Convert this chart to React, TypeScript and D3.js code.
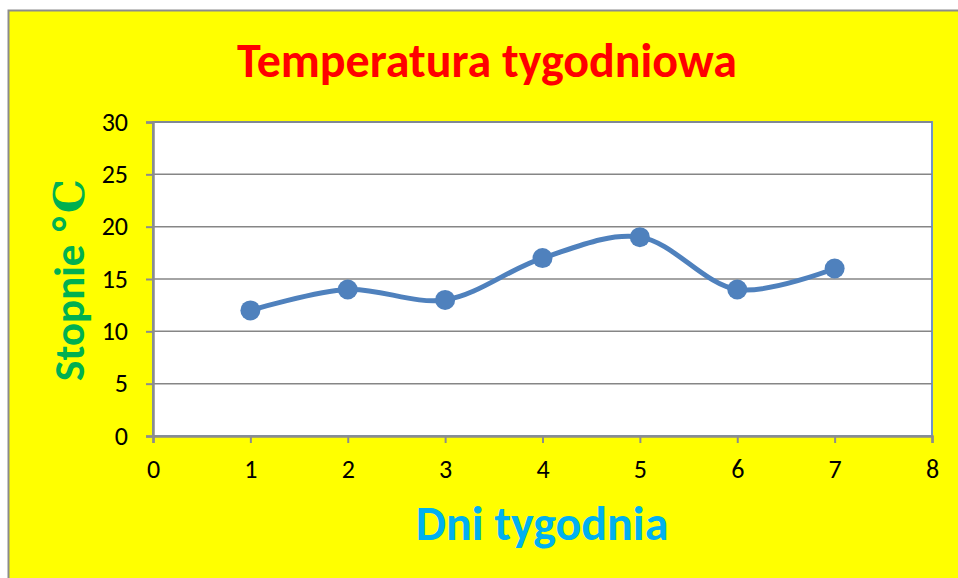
import React, { useRef, useEffect } from 'react';
import * as d3 from 'd3';

const days = [1, 2, 3, 4, 5, 6, 7];
const temps = [12, 14, 13, 17, 19, 14, 16];
const xTicks = [0, 1, 2, 3, 4, 5, 6, 7, 8];
const yTicks = [0, 5, 10, 15, 20, 25, 30];

const W = 958;
const H = 578;
const plot = { left: 153, top: 122, right: 932, bottom: 436 };

export default function App() {
  const svgRef = useRef<SVGSVGElement>(null);

  useEffect(() => {
    const svg = d3.select(svgRef.current);
    svg.selectAll('*').remove();

    const x = d3.scaleLinear().domain([0, 8]).range([plot.left, plot.right]);
    const y = d3.scaleLinear().domain([0, 30]).range([plot.bottom, plot.top]);
    const font = 'Calibri, Carlito, "Open Sans", sans-serif';

    // background + outer border (only left/top visible)
    svg.append('rect').attr('x', 0).attr('y', 0).attr('width', W).attr('height', H).attr('fill', '#fff');
    svg.append('rect').attr('x', 8).attr('y', 10).attr('width', W).attr('height', H).attr('fill', '#ffff00');
    svg.append('path').attr('d', `M8.5,${H} V10.5 H${W}`).attr('fill', 'none').attr('stroke', '#8c8c8c').attr('stroke-width', 2);

    // plot area
    svg.append('rect')
      .attr('x', plot.left).attr('y', plot.top)
      .attr('width', plot.right - plot.left).attr('height', plot.bottom - plot.top)
      .attr('fill', '#fff').attr('stroke', '#6f94c8').attr('stroke-width', 2);

    // gridlines
    svg.append('g').selectAll('line').data(yTicks.filter(d => d > 0)).join('line')
      .attr('x1', plot.left).attr('x2', plot.right)
      .attr('y1', d => y(d)).attr('y2', d => y(d))
      .attr('stroke', '#868686').attr('stroke-width', 1.5);

    // y axis
    const yAxis = d3.axisLeft(y).tickValues(yTicks).tickSize(7).tickPadding(18);
    const gy = svg.append('g').attr('transform', `translate(${plot.left},0)`).call(yAxis);
    // x axis
    const xAxis = d3.axisBottom(x).tickValues(xTicks).tickSize(7).tickPadding(17);
    const gx = svg.append('g').attr('transform', `translate(0,${plot.bottom})`).call(xAxis);

    [gy, gx].forEach(g => {
      g.attr('font-size', 26).attr('font-family', font);
      g.select('.domain').attr('stroke', '#8c8c8c').attr('stroke-width', 2.5);
      g.selectAll('.tick line').attr('stroke', '#8c8c8c').attr('stroke-width', 2);
      g.selectAll('.tick text').attr('fill', '#000');
    });

    // smoothed line, like Excel's
    const lineGen = d3.line<number>()
      .x((_, i) => x(days[i]))
      .y(d => y(d))
      .curve(d3.curveCatmullRom.alpha(0.5));
    svg.append('path').datum(temps)
      .attr('d', lineGen)
      .attr('fill', 'none').attr('stroke', '#4f81bd').attr('stroke-width', 5);

    svg.append('g').selectAll('circle').data(temps).join('circle')
      .attr('cx', (_, i) => x(days[i])).attr('cy', d => y(d)).attr('r', 10)
      .attr('fill', '#4f81bd');

    // titles
    svg.append('text').text('Temperatura tygodniowa')
      .attr('x', 487).attr('y', 77).attr('text-anchor', 'middle')
      .attr('fill', '#ff0000').style('font-family', font).style('font-weight', 'bold').style('font-size', '48px');

    svg.append('text').text('Dni tygodnia')
      .attr('x', 542).attr('y', 540).attr('text-anchor', 'middle')
      .attr('fill', '#00b0f0').style('font-family', font).style('font-weight', 'bold').style('font-size', '48px');

    const yl = svg.append('text')
      .attr('transform', 'translate(84,280) rotate(-90)').attr('text-anchor', 'middle')
      .attr('fill', '#00b050').style('font-family', font).style('font-weight', 'bold').style('font-size', '43px');
    yl.append('tspan').text('Stopnie ');
    yl.append('tspan').text('°C').style('font-family', '"DejaVu Serif", serif');
  }, []);

  return (
    <svg ref={svgRef} width={W} height={H} style={{ position: 'absolute', left: 0, top: 0 }} />
  );
}
